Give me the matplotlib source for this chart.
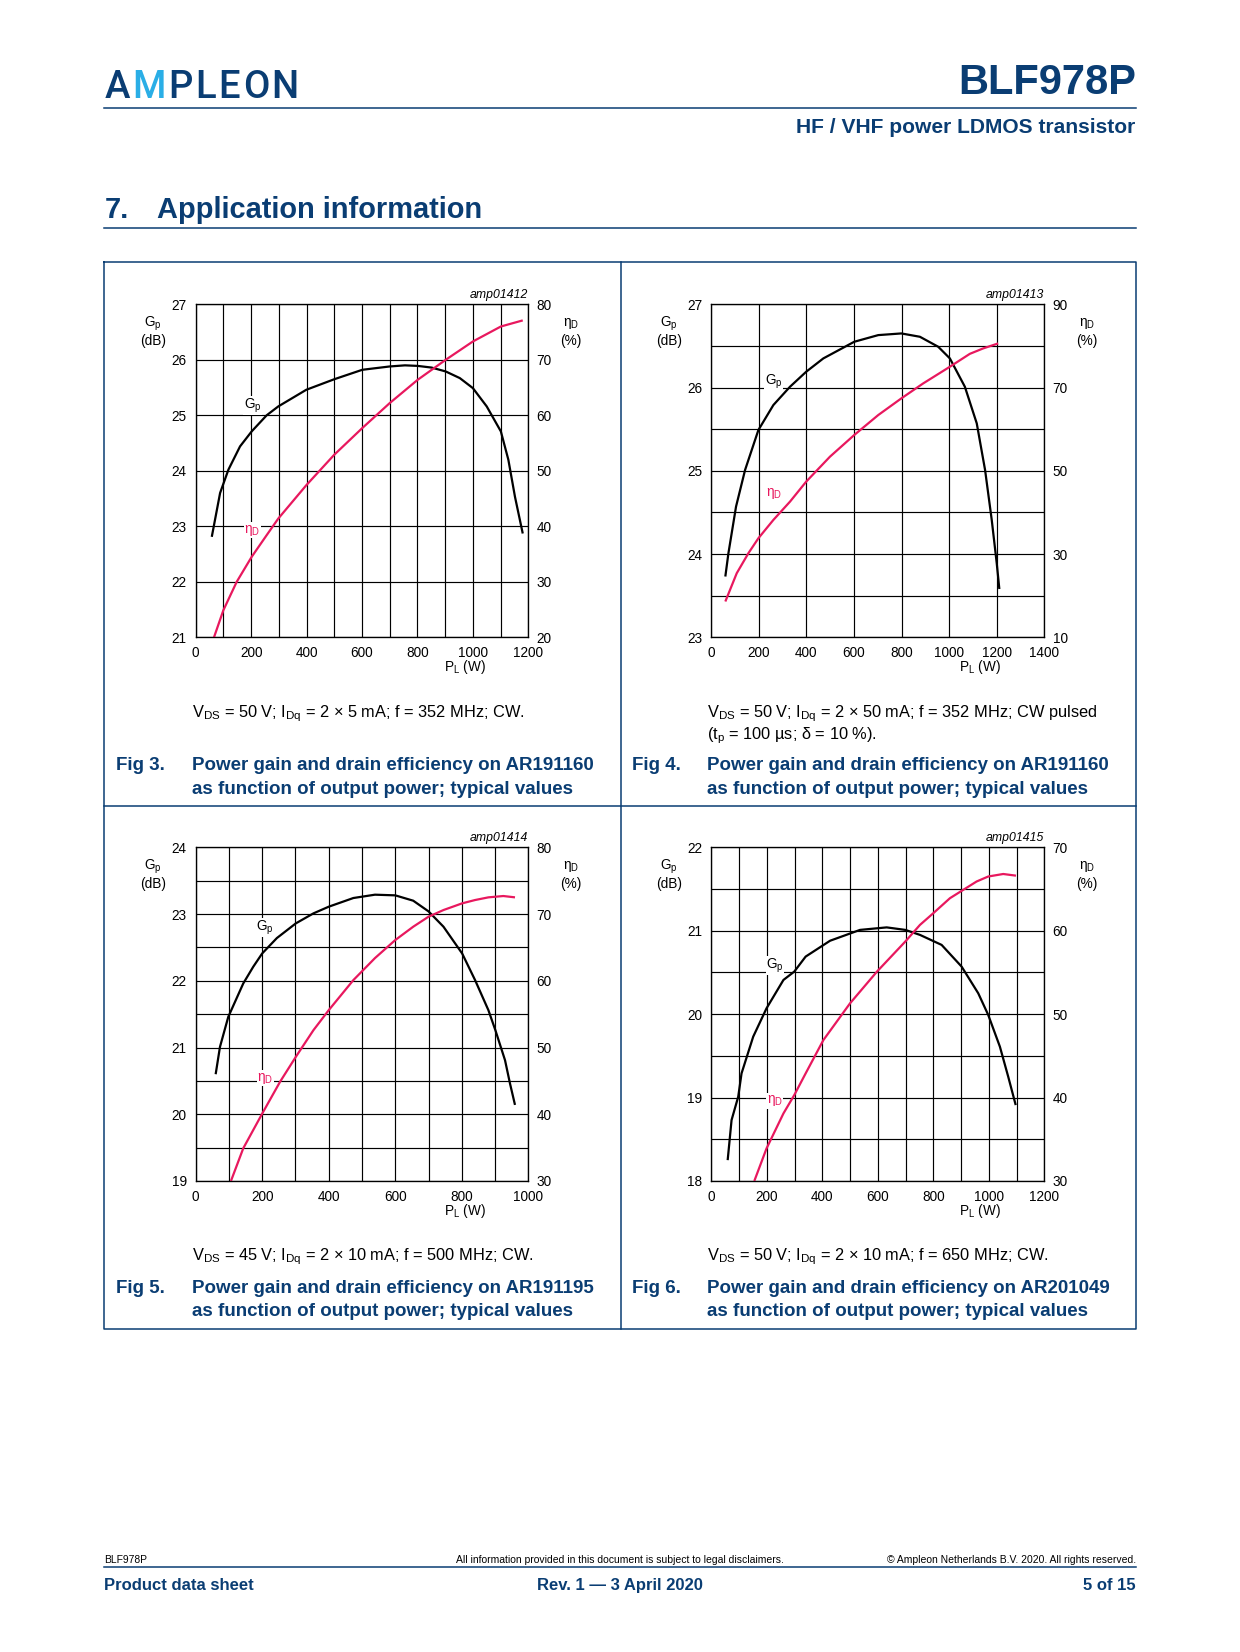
import matplotlib
matplotlib.use('Agg')
import matplotlib.pyplot as plt
import numpy as np
from matplotlib.ticker import MultipleLocator

plt.rcParams['font.family'] = ['Liberation Sans', 'DejaVu Sans']
plt.rcParams['mathtext.fontset'] = 'custom'
plt.rcParams['mathtext.rm'] = 'Liberation Sans'
plt.rcParams['mathtext.it'] = 'Liberation Sans:italic'
plt.rcParams['mathtext.bf'] = 'Liberation Sans:bold'

# ---------------- data ----------------
# Fig 3
fig3_pl_gp = [58, 88, 118, 160, 202, 256, 298, 399, 500, 601, 700, 755, 801, 851, 902, 953, 1000, 1050, 1101, 1128, 1152, 1180]
fig3_gp = [22.81, 23.60, 24.02, 24.44, 24.71, 25.00, 25.16, 25.46, 25.65, 25.82, 25.88, 25.90, 25.89, 25.86, 25.79, 25.67, 25.49, 25.16, 24.71, 24.20, 23.53, 22.87]
fig3_pl_eta = [66, 100, 148, 202, 256, 298, 399, 500, 601, 700, 801, 902, 1000, 1101, 1180]
fig3_eta = [20.0, 24.9, 30.0, 34.5, 38.4, 41.4, 47.4, 52.9, 57.7, 62.2, 66.4, 70.0, 73.3, 76.0, 77.1]
fig3_xticks = [0, 200, 400, 600, 800, 1000, 1200]
fig3_gpticks = [21, 22, 23, 24, 25, 26, 27]
fig3_etaticks = [20, 30, 40, 50, 60, 70, 80]

# Fig 4
fig4_pl_gp = [59, 72, 104, 142, 198, 261, 331, 399, 471, 601, 702, 799, 877, 954, 1003, 1066, 1116, 1151, 1179, 1200, 1211]
fig4_gp = [23.73, 24.01, 24.57, 25.01, 25.49, 25.79, 26.01, 26.19, 26.35, 26.55, 26.63, 26.65, 26.61, 26.49, 26.35, 26.01, 25.57, 25.01, 24.41, 23.89, 23.58]
fig4_pl_eta = [59, 107, 156, 198, 261, 331, 399, 499, 601, 702, 799, 891, 1003, 1087, 1143, 1206]
fig4_eta = [18.6, 25.4, 30.2, 33.8, 38.2, 42.6, 47.4, 53.4, 58.6, 63.4, 67.4, 71.0, 75.0, 78.1, 79.4, 80.6]
fig4_xticks = [0, 200, 400, 600, 800, 1000, 1200, 1400]
fig4_gpticks = [23, 24, 25, 26, 27]
fig4_etaticks = [10, 30, 50, 70, 90]

# Fig 5
fig5_pl_gp = [60, 73, 98, 143, 173, 200, 244, 301, 354, 400, 474, 539, 600, 654, 700, 745, 801, 840, 880, 901, 930, 945, 960]
fig5_gp = [20.60, 21.01, 21.46, 21.96, 22.21, 22.41, 22.64, 22.86, 23.01, 23.11, 23.24, 23.29, 23.28, 23.20, 23.04, 22.81, 22.41, 22.01, 21.56, 21.26, 20.81, 20.46, 20.14]
fig5_pl_eta = [106, 143, 200, 254, 301, 354, 400, 474, 539, 600, 654, 700, 745, 801, 840, 880, 925, 960]
fig5_eta = [30.0, 34.9, 40.1, 44.9, 48.6, 52.6, 55.6, 60.1, 63.4, 66.1, 68.1, 69.6, 70.6, 71.6, 72.1, 72.5, 72.7, 72.5]
fig5_xticks = [0, 200, 400, 600, 800, 1000]
fig5_gpticks = [19, 20, 21, 22, 23, 24]
fig5_etaticks = [30, 40, 50, 60, 70, 80]

# Fig 6
fig6_pl_gp = [59, 73, 97, 109, 151, 199, 260, 299, 340, 428, 536, 632, 699, 752, 830, 902, 962, 998, 1040, 1070, 1097]
fig6_gp = [18.25, 18.73, 19.01, 19.29, 19.73, 20.07, 20.41, 20.51, 20.69, 20.88, 21.01, 21.04, 21.01, 20.95, 20.83, 20.57, 20.25, 19.99, 19.61, 19.25, 18.91]
fig6_pl_eta = [155, 199, 260, 299, 340, 404, 500, 597, 699, 752, 800, 860, 908, 956, 998, 1052, 1098]
fig6_eta = [30.0, 33.9, 38.1, 40.3, 42.9, 46.9, 51.3, 55.1, 58.7, 60.7, 62.1, 63.9, 64.9, 65.9, 66.5, 66.8, 66.6]
fig6_xticks = [0, 200, 400, 600, 800, 1000, 1200]
fig6_gpticks = [18, 19, 20, 21, 22]
fig6_etaticks = [30, 40, 50, 60, 70]

codes = ['amp01412', 'amp01413', 'amp01414', 'amp01415']
conditions = [
    ['$\\mathrm{V_{DS}}$ = 50 V; $\\mathrm{I_{Dq}}$ = 2 × 5 mA; f = 352 MHz; CW.'],
    ['$\\mathrm{V_{DS}}$ = 50 V; $\\mathrm{I_{Dq}}$ = 2 × 50 mA; f = 352 MHz; CW pulsed',
     '($\\mathrm{t_p}$ = 100 µs; δ = 10 %).'],
    ['$\\mathrm{V_{DS}}$ = 45 V; $\\mathrm{I_{Dq}}$ = 2 × 10 mA; f = 500 MHz; CW.'],
    ['$\\mathrm{V_{DS}}$ = 50 V; $\\mathrm{I_{Dq}}$ = 2 × 10 mA; f = 650 MHz; CW.'],
]
fig_nums = ['Fig 3.', 'Fig 4.', 'Fig 5.', 'Fig 6.']
fig_titles = [
    ['Power gain and drain efficiency on AR191160', 'as function of output power; typical values'],
    ['Power gain and drain efficiency on AR191160', 'as function of output power; typical values'],
    ['Power gain and drain efficiency on AR191195', 'as function of output power; typical values'],
    ['Power gain and drain efficiency on AR201049', 'as function of output power; typical values'],
]
logo_letters = ['A', 'M', 'P', 'L', 'E', 'O', 'N']

# ---------------- style ----------------
BLUE = '#0a3d73'
LBLUE = '#2aaee6'
PINK = '#e8185e'
W, H = 1240, 1652

fig = plt.figure(figsize=(W / 100, H / 100), dpi=100)
bg = fig.add_axes([0, 0, 1, 1])
bg.set_xlim(0, W)
bg.set_ylim(H, 0)
bg.axis('off')


def px_rect(l, t, r, b):
    return [l / W, 1 - b / H, (r - l) / W, (b - t) / H]


def chart(rect, pl_gp, gp, pl_eta, eta, xticks, xgrid, gpticks, gpgrid, etaticks,
          code, gp_lab, eta_lab):
    l, t, r, b = rect
    ax = fig.add_axes(px_rect(l, t, r, b))
    ax.set_xlim(xticks[0], xticks[-1])
    ax.set_ylim(gpticks[0], gpticks[-1])
    ax.set_xticks(xticks)
    ax.set_xticklabels([str(v) for v in xticks])
    ax.xaxis.set_minor_locator(MultipleLocator(xgrid))
    ax.set_yticks(gpticks)
    ax.set_yticklabels([str(v) for v in gpticks])
    ax.yaxis.set_minor_locator(MultipleLocator(gpgrid))
    ax.grid(True, which='both', color='black', lw=0.85)
    ax.tick_params(which='both', length=0, labelsize=9.8, pad=6.5)
    ax.plot(pl_gp, gp, color='black', lw=1.6, zorder=3, solid_capstyle='butt')
    ax2 = ax.twinx()
    ax2.set_ylim(etaticks[0], etaticks[-1])
    ax2.set_yticks(etaticks)
    ax2.set_yticklabels([str(v) for v in etaticks])
    ax2.tick_params(length=0, labelsize=9.8, pad=6)
    ax2.plot(pl_eta, eta, color=PINK, lw=1.6, solid_capstyle='butt')
    for a in (ax, ax2):
        for s in a.spines.values():
            s.set_linewidth(0.85)
    bb = dict(facecolor='white', edgecolor='none', pad=0.3)
    ax2.text(gp_lab[0], gp_lab[1], '$\\mathrm{G_p}$', transform=ax.transData,
             ha='center', va='center', fontsize=9.8, color='black', bbox=bb, zorder=5)
    ax2.text(eta_lab[0], eta_lab[1], '$\\mathrm{\\eta_D}$', transform=ax.transData,
             ha='center', va='center', fontsize=9.8, color=PINK, bbox=bb, zorder=5)
    # axis titles
    bg.text(l - 42.5, t + 19.5, '$\\mathrm{G_p}$', ha='center', va='center', fontsize=9.8)
    bg.text(l - 42.5, t + 36.5, '(dB)', ha='center', va='center', fontsize=9.8)
    bg.text(r + 43, t + 19.5, '$\\mathrm{\\eta_D}$', ha='center', va='center', fontsize=9.8)
    bg.text(r + 43, t + 36.5, '(%)', ha='center', va='center', fontsize=9.8)
    bg.text(r, t - 9, code, ha='right', va='center', fontsize=8.8, style='italic')
    bg.text(l + 0.808 * (r - l), b + 29.5, '$\\mathrm{P_L}$ (W)', ha='center', va='center',
            fontsize=9.8)


rects = [(195.7, 304.3, 528.3, 637.3), (711.3, 304.3, 1044.3, 637.3),
         (195.7, 847.3, 528.3, 1181.0), (711.3, 847.3, 1044.3, 1181.0)]

chart(rects[0], fig3_pl_gp, fig3_gp, fig3_pl_eta, fig3_eta, fig3_xticks, 100,
      fig3_gpticks, 1, fig3_etaticks, codes[0], (205, 25.17), (205, 22.93))
chart(rects[1], fig4_pl_gp, fig4_gp, fig4_pl_eta, fig4_eta, fig4_xticks, 200,
      fig4_gpticks, 0.5, fig4_etaticks, codes[1], (261, 26.07), (263, 24.73))
chart(rects[2], fig5_pl_gp, fig5_gp, fig5_pl_eta, fig5_eta, fig5_xticks, 100,
      fig5_gpticks, 0.5, fig5_etaticks, codes[2], (208, 22.80), (210, 20.54))
chart(rects[3], fig6_pl_gp, fig6_gp, fig6_pl_eta, fig6_eta, fig6_xticks, 100,
      fig6_gpticks, 0.5, fig6_etaticks, codes[3], (229, 20.58), (229, 18.96))

# ---------------- page furniture ----------------
DY = 3.0  # vertical correction for centred text
# logo: letters spread evenly between the logo's left and right edges
renderer = fig.canvas.get_renderer()
logo_texts = []
for i, ch in enumerate(logo_letters):
    tx = bg.text(0, 84.0 + DY, ch, ha='left', va='center', fontsize=27.5,
                 color=LBLUE if i == 1 else BLUE,
                 family=['Roboto', 'DejaVu Sans'], fontweight='medium')
    logo_texts.append(tx)
widths = [tx.get_window_extent(renderer).width for tx in logo_texts]
x_left, x_right = 104.3, 299.0
gap = (x_right - x_left - sum(widths)) / (len(widths) - 1)
xc = x_left
for tx, wd in zip(logo_texts, widths):
    tx.set_x(xc)
    xc += wd + gap

bg.text(1135.7, 80 + DY, 'BLF978P', ha='right', va='center', fontsize=30,
        fontweight='bold', color=BLUE)
bg.plot([104.3, 1135.7], [107.5, 107.5], color=BLUE, lw=1.1)
bg.text(1135.7, 124.5 + DY, 'HF / VHF power LDMOS transistor', ha='right', va='center',
        fontsize=15.1, fontweight='bold', color=BLUE)
bg.text(104.3, 206.5 + DY, '7.', ha='left', va='center', fontsize=20.9, fontweight='bold', color=BLUE)
bg.text(157, 206.5 + DY, 'Application information', ha='left', va='center', fontsize=20.9,
        fontweight='bold', color=BLUE)
bg.plot([104.3, 1135.7], [227.6, 227.6], color=BLUE, lw=1.1)

# panel box
bx0, by0, bx1, by1 = 104.3, 262.3, 1135.7, 1329.0
bg.plot([bx0, bx1, bx1, bx0, bx0], [by0, by0, by1, by1, by0], color=BLUE, lw=1.1)
bg.plot([620.5, 620.5], [by0, by1], color=BLUE, lw=1.1)
bg.plot([bx0, bx1], [806, 806], color=BLUE, lw=1.1)

# captions
cap_x = [191.7, 707.0, 191.7, 707.0]
num_x = [116.5, 632.0, 116.5, 632.0]
cap_y = [711.0, 711.0, 1253.7, 1253.7]
tit_y = [762.7, 762.7, 1285.3, 1285.3]
for i in range(4):
    for j, line in enumerate(conditions[i]):
        bg.text(cap_x[i], cap_y[i] + DY + 21.2 * j, line, ha='left', va='center', fontsize=11.8)
    bg.text(num_x[i], tit_y[i] + DY, fig_nums[i], ha='left', va='center', fontsize=13.5,
            fontweight='bold', color=BLUE)
    for j, line in enumerate(fig_titles[i]):
        bg.text(cap_x[i], tit_y[i] + DY + 23.3 * j, line, ha='left', va='center', fontsize=13.5,
                fontweight='bold', color=BLUE)

# footer
bg.text(104.3, 1558.1 + 2, 'BLF978P', ha='left', va='center', fontsize=7.4)
bg.text(619.5, 1558.1 + 2, 'All information provided in this document is subject to legal disclaimers.',
        ha='center', va='center', fontsize=7.45)
bg.text(1135.7, 1558.1 + 2, '© Ampleon Netherlands B.V. 2020. All rights reserved.',
        ha='right', va='center', fontsize=7.45)
bg.plot([104.3, 1135.7], [1566.6, 1566.6], color=BLUE, lw=1.1)
bg.text(104.3, 1583.4 + 2, 'Product data sheet', ha='left', va='center', fontsize=12,
        fontweight='bold', color=BLUE)
bg.text(619.5, 1583.4 + 2, 'Rev. 1 — 3 April 2020', ha='center', va='center', fontsize=12,
        fontweight='bold', color=BLUE)
bg.text(1135.7, 1583.4 + 2, '5 of 15', ha='right', va='center', fontsize=12,
        fontweight='bold', color=BLUE)

fig.savefig('out.png', dpi=100)
